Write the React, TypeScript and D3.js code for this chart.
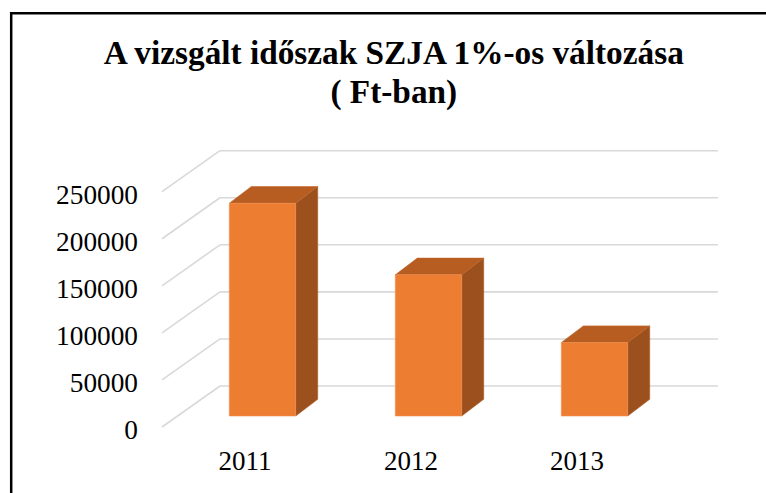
import React from "react";
import * as d3 from "d3";

const categories = ["2011", "2012", "2013"];
const values = [226000, 150000, 78000];
const yTicks = [0, 50000, 100000, 150000, 200000, 250000];
const titleLines = ["A vizsgált időszak SZJA 1%-os változása", "( Ft-ban)"];

const W = 766;
const H = 493;

export default function App() {
  const frontLeft = 162;
  const frontRight = 660;
  const depthDx = 58;
  const depthDy = -41;
  const y = d3.scaleLinear().domain([0, 250000]).range([427, 191.7]);
  const x = d3.scaleBand<string>().domain(categories).range([frontLeft, frontRight]).padding(0);
  const bw = x.bandwidth() * 0.4;
  const barFrontDx = 17.5;
  const barFrontDy = -11;
  const barDepthDx = 22;
  const barDepthDy = -16.7;

  const fontStyle = { fontFamily: "Liberation Serif" };

  return (
    <svg width={W} height={H} style={{ position: "absolute", left: 0, top: 0, background: "#fff" }}>
      <path d="M11.2,800 L11.2,13.2 L800,13.2" fill="none" stroke="#000" strokeWidth={2.5} />
      {titleLines.map((t, i) => (
        <text
          key={i}
          x={393.8}
          y={64.3 + i * 39}
          textAnchor="middle"
          style={fontStyle}
          fontWeight="bold"
          fontSize={33.3}
          fill="#000"
        >
          {t}
        </text>
      ))}
      {yTicks.map((t) => {
        const yf = y(t);
        return (
          <g key={t}>
            <line x1={frontLeft} y1={yf} x2={frontLeft + depthDx} y2={yf + depthDy} stroke="#d9d9d9" strokeWidth={1.6} />
            <line x1={frontLeft + depthDx} y1={yf + depthDy} x2={frontRight + depthDx} y2={yf + depthDy} stroke="#d9d9d9" strokeWidth={1.6} />
            <text x={138} y={yf + 11.8} textAnchor="end" style={fontStyle} fontSize={27.3} fill="#000">
              {t}
            </text>
          </g>
        );
      })}
      {categories.map((c, i) => {
        const cx = (x(c) as number) + x.bandwidth() / 2 + barFrontDx;
        const x0 = cx - bw / 2;
        const x1 = cx + bw / 2;
        const yb = y(0) + barFrontDy;
        const yt = y(values[i]) + barFrontDy;
        const front = `M${x0},${yb} L${x1},${yb} L${x1},${yt} L${x0},${yt} Z`;
        const top = `M${x0},${yt} L${x1},${yt} L${x1 + barDepthDx},${yt + barDepthDy} L${x0 + barDepthDx},${yt + barDepthDy} Z`;
        const side = `M${x1},${yb} L${x1 + barDepthDx},${yb + barDepthDy} L${x1 + barDepthDx},${yt + barDepthDy} L${x1},${yt} Z`;
        return (
          <g key={c}>
            <path d={side} fill="#9b501e" stroke="#a8591f" strokeWidth={0.6} />
            <path d={top} fill="#b85d21" stroke="#c0652a" strokeWidth={0.6} />
            <path d={front} fill="#ed7d31" stroke="#f19050" strokeWidth={0.6} />
          </g>
        );
      })}
      {categories.map((c) => (
        <text
          key={c}
          x={(x(c) as number) + x.bandwidth() / 2}
          y={470}
          textAnchor="middle"
          style={fontStyle}
          fontSize={27}
          fill="#000"
        >
          {c}
        </text>
      ))}
    </svg>
  );
}
